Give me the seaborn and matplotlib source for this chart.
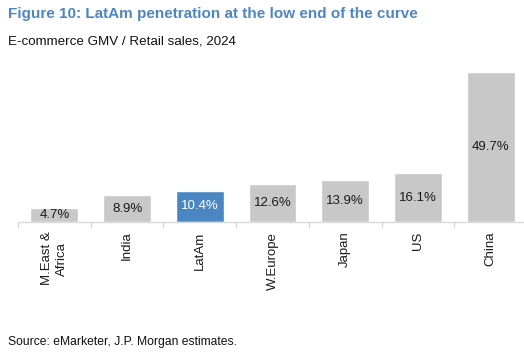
import matplotlib
matplotlib.use("Agg")
import matplotlib.pyplot as plt
import seaborn as sns
import pandas as pd

# ── DATA ──────────────────────────────────────────────────────
regions = ["M.East &\nAfrica", "India", "LatAm", "W.Europe", "Japan", "US", "China"]
penetration = [4.7, 8.9, 10.4, 12.6, 13.9, 16.1, 49.7]
highlight = "LatAm"

df = pd.DataFrame({"region": regions, "value": penetration})

# ── STYLE ─────────────────────────────────────────────────────
sns.set_style("white")
plt.rcParams["font.family"] = ["Liberation Sans", "DejaVu Sans"]

grey = "#c8c8c8"
blue = "#4a86c1"
title_blue = "#4f86c0"
palette = {r: (blue if r == highlight else grey) for r in regions}

fig = plt.figure(figsize=(5.24, 3.6), dpi=100)
ax = fig.add_axes([18 / 524, (360 - 222) / 360, (527 - 18) / 524, 166 / 360])

sns.barplot(data=df, x="region", y="value", hue="region", palette=palette,
            width=0.66, legend=False, ax=ax, saturation=1)

for i, v in enumerate(penetration):
    color = "white" if regions[i] == highlight else "#1a1a1a"
    ax.text(i, v / 2, f"{v:.1f}%", ha="center", va="center",
            fontsize=9.5, color=color)

ax.set_ylim(0, 55)
ax.set_xlim(-0.5, 6.5)
ax.set_yticks([])
ax.set_xlabel("")
ax.set_ylabel("")
for side in ["top", "left", "right"]:
    ax.spines[side].set_visible(False)
ax.spines["bottom"].set_color("#d9d9d9")
ax.spines["bottom"].set_linewidth(1)
ax.spines["bottom"].set_clip_on(False)

ax.set_xticks(range(len(regions)))
ax.set_xticklabels(regions, rotation=90, fontsize=9.5, color="#1a1a1a",
                   ha="center", va="top", multialignment="center",
                   linespacing=1.3)
ax.tick_params(axis="x", which="major", length=0, pad=7)
ax.set_xticks([i - 0.5 for i in range(len(regions) + 1)], minor=True)
ax.tick_params(axis="x", which="minor", length=4, color="#d9d9d9", width=1,
               direction="out")
ax.xaxis.set_ticks_position("bottom")

# ── TEXT ──────────────────────────────────────────────────────
fig.text(8 / 524, 1 - 14 / 360, "Figure 10: LatAm penetration at the low end of the curve",
         fontsize=11, fontweight="bold", color=title_blue, va="center", ha="left")
fig.text(8 / 524, 1 - 42 / 360, "E-commerce GMV / Retail sales, 2024",
         fontsize=9.6, color="#111111", va="center", ha="left")
fig.text(8 / 524, 1 - 342 / 360, "Source: eMarketer, J.P. Morgan estimates.",
         fontsize=8.7, color="#111111", va="center", ha="left")

fig.savefig("out.png", dpi=100)
